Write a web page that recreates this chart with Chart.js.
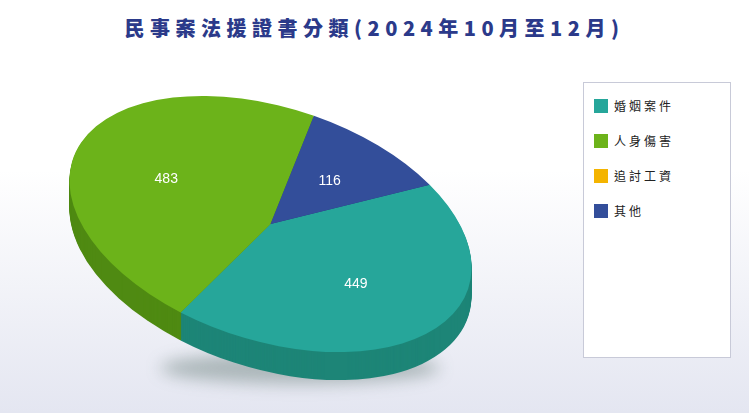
<!DOCTYPE html>
<html><head><meta charset="utf-8">
<script src="https://cdn.jsdelivr.net/npm/chart.js@4"></script>
<style>
body{margin:0;width:749px;height:413px;overflow:hidden;position:relative;
 background:linear-gradient(to bottom,#fff 0,#fff 170px,#e4e6f1 413px);font-family:"Noto Sans CJK TC",sans-serif}
#title{position:absolute;top:13px;left:0;width:749px;text-align:center;font-size:20px;font-weight:900;color:#2b3a8a;letter-spacing:5.5px}
#wrap{position:absolute;left:0;top:0;width:749px;height:450px}
#legend{position:absolute;left:583px;top:82px;width:146px;height:274px;border:1px solid #c8cad8;background:#fff}
.it{position:absolute;left:10px;font-size:12px;letter-spacing:3px;color:#222;display:flex;align-items:center}
.it i{display:inline-block;width:14px;height:14px;margin-right:6px}
</style></head><body>
<div id="title">民事案法援證書分類(2024年10月至12月)</div>
<div id="wrap"><canvas id="c"></canvas></div>
<div id="legend"></div>
<script>
const labels = ["婚姻案件", "人身傷害", "追討工資", "其他"];
const values = [449, 483, 0, 116];
const colors = ["#26a69a", "#6cb31a", "#f4b400", "#334e9a"];
const sides = ["#1d8577", "#4f8a12", "#c08c00", "#243a78"];

const lg = document.getElementById("legend");
labels.forEach((l, i) => {
  lg.innerHTML += `<div class="it" style="top:${14 + i * 35}px"><i style="background:${colors[i]}"></i>${l}</div>`;
});

const TILT = 18 * Math.PI / 180, K = 0.56, DEPTH = 28;
function tf(ctx, cx, cy) {
  ctx.translate(cx, cy); ctx.rotate(TILT); ctx.scale(1, K); ctx.translate(-cx, -cy);
}
function pt(x, y, cx, cy) {
  const dx = x - cx, dy = (y - cy) * K;
  return [cx + dx * Math.cos(TILT) - dy * Math.sin(TILT), cy + dx * Math.sin(TILT) + dy * Math.cos(TILT)];
}

const pie3d = {
  id: "pie3d",
  beforeDatasetsDraw(chart) {
    const ctx = chart.ctx, arcs = chart.getDatasetMeta(0).data;
    const cx = arcs[0].x, cy = arcs[0].y;
    ctx.save();
    ctx.filter = "blur(8px)";
    ctx.fillStyle = "rgba(60,90,80,0.35)";
    ctx.beginPath(); ctx.ellipse(300, 368, 140, 16, 0, 0, Math.PI * 2); ctx.fill();
    ctx.restore();
    for (let d = DEPTH; d >= 1; d--) {
      ctx.save();
      ctx.translate(0, d);
      tf(ctx, cx, cy);
      arcs.forEach((a, i) => {
        if (a.endAngle - a.startAngle <= 0) return;
        ctx.fillStyle = sides[i];
        ctx.beginPath(); ctx.moveTo(a.x, a.y);
        ctx.arc(a.x, a.y, a.outerRadius, a.startAngle, a.endAngle);
        ctx.closePath(); ctx.fill();
      });
      ctx.restore();
    }
    ctx.save();
    tf(ctx, cx, cy);
  },
  afterDatasetsDraw(chart) {
    const ctx = chart.ctx, arcs = chart.getDatasetMeta(0).data;
    ctx.restore();
    ctx.fillStyle = "#fff";
    ctx.font = "14px 'Liberation Sans', Arial";
    ctx.textAlign = "center"; ctx.textBaseline = "middle";
    arcs.forEach((a, i) => {
      if (!values[i]) return;
      const mid = (a.startAngle + a.endAngle) / 2, r = a.outerRadius * 0.55;
      const p = pt(a.x + Math.cos(mid) * r, a.y + Math.sin(mid) * r, a.x, a.y);
      ctx.fillText(values[i], p[0], p[1]);
    });
  }
};

new Chart(document.getElementById("c"), {
  type: "pie",
  data: { labels, datasets: [{ data: values, backgroundColor: colors, borderWidth: 0 }] },
  options: {
    responsive: true, maintainAspectRatio: false, animation: false,
    rotation: 42,
    layout: { padding: { left: 62, right: 270, top: 16, bottom: 18 } },
    plugins: { legend: { display: false }, tooltip: { enabled: false } }
  },
  plugins: [pie3d]
});
</script>
</body></html>
